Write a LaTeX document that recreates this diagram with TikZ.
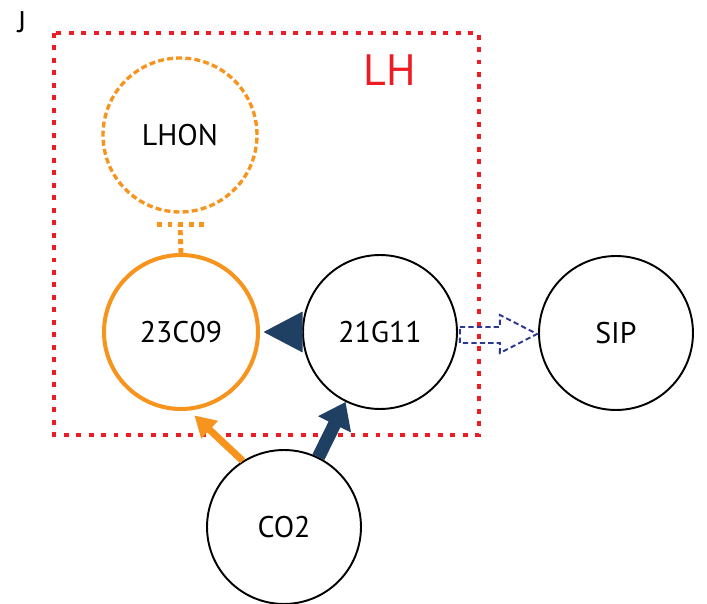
\documentclass[tikz,border=0pt]{standalone}
\usepackage{fontspec}
\setmainfont{PT Sans}
\usetikzlibrary{arrows.meta, calc}
\definecolor{lhred}{HTML}{ED1C24}
\definecolor{lhorange}{HTML}{F7941D}
\definecolor{navy}{HTML}{1F3F63}
\definecolor{dashblue}{HTML}{2B3990}

\begin{document}
\begin{tikzpicture}[
    x=0.02cm, y=-0.02cm,
    every node/.style={font=\fontsize{17}{20}\selectfont},
    cell/.style={circle, draw=black, line width=1.1pt, minimum size=3.08cm, inner sep=0pt},
    hit/.style={cell, draw=lhorange, line width=2.3pt},
    ghost/.style={cell, draw=lhorange, line width=1.9pt, dash pattern=on 3.4pt off 1.8pt},
    lhbox/.style={draw=lhred, line width=2.8pt, dash pattern=on 2.8pt off 4.3pt},
    tbar/.style={draw=lhorange, line width=2.8pt, dash pattern=on 2.8pt off 2.3pt},
]
\useasboundingbox (0,0) rectangle (707,604);

\node[anchor=center] (panel) at (22,22) {J};

% the LH region
\draw[lhbox] (54,33) rectangle (479,435);
\node[text=lhred, font=\fontsize{25}{30}\selectfont] (lh) at (390,70) {LH};

% ---------------- cells
\node[ghost] (lhon) at (180,135) {LHON};
\node[hit] (c09) at (181,332) {23C09};
\node[cell] (g11) at (380,332) {21G11};
\node[cell] (sip) at (616,333) {SIP};
\node[cell] (co2) at (284,527) {CO2};

% LHON -| 23C09
\coordinate (tb) at ($(lhon.south)+(0,11)$);
\draw[tbar] (c09.north) -- (tb);
\draw[tbar, dash pattern=on 2.8pt off 3.2pt] ($(tb)+(-23,0)$) -- ($(tb)+(25,0)$);

% 21G11 -> 23C09
\draw[navy, line width=2pt, -{Triangle[length=0.78cm, width=0.8cm]}, shorten >=2pt] (g11) -- (c09);

% 21G11 => SIP, hollow
\draw[dashblue, line width=1.1pt, dash pattern=on 3pt off 1.8pt, line join=miter]
    ($(g11.east)+(2,-5)$) -- ++(40,0) -- ++(0,-12) -- ($(sip.west)+(-1,1)$)
    -- ($(g11.east)+(42,21)$) -- ++(0,-10) -- ($(g11.east)+(2,11)$) -- cycle;

% CO2 -> 23C09, CO2 -> 21G11
\draw[lhorange, line width=4pt, -{Triangle[length=0.42cm, width=0.46cm]}, shorten >=4pt] (co2.122) -- (c09.-84);
\draw[navy, line width=7.5pt, -{Triangle[length=0.5cm, width=0.7cm]}] (co2) -- (g11);
\end{tikzpicture}
\end{document}
